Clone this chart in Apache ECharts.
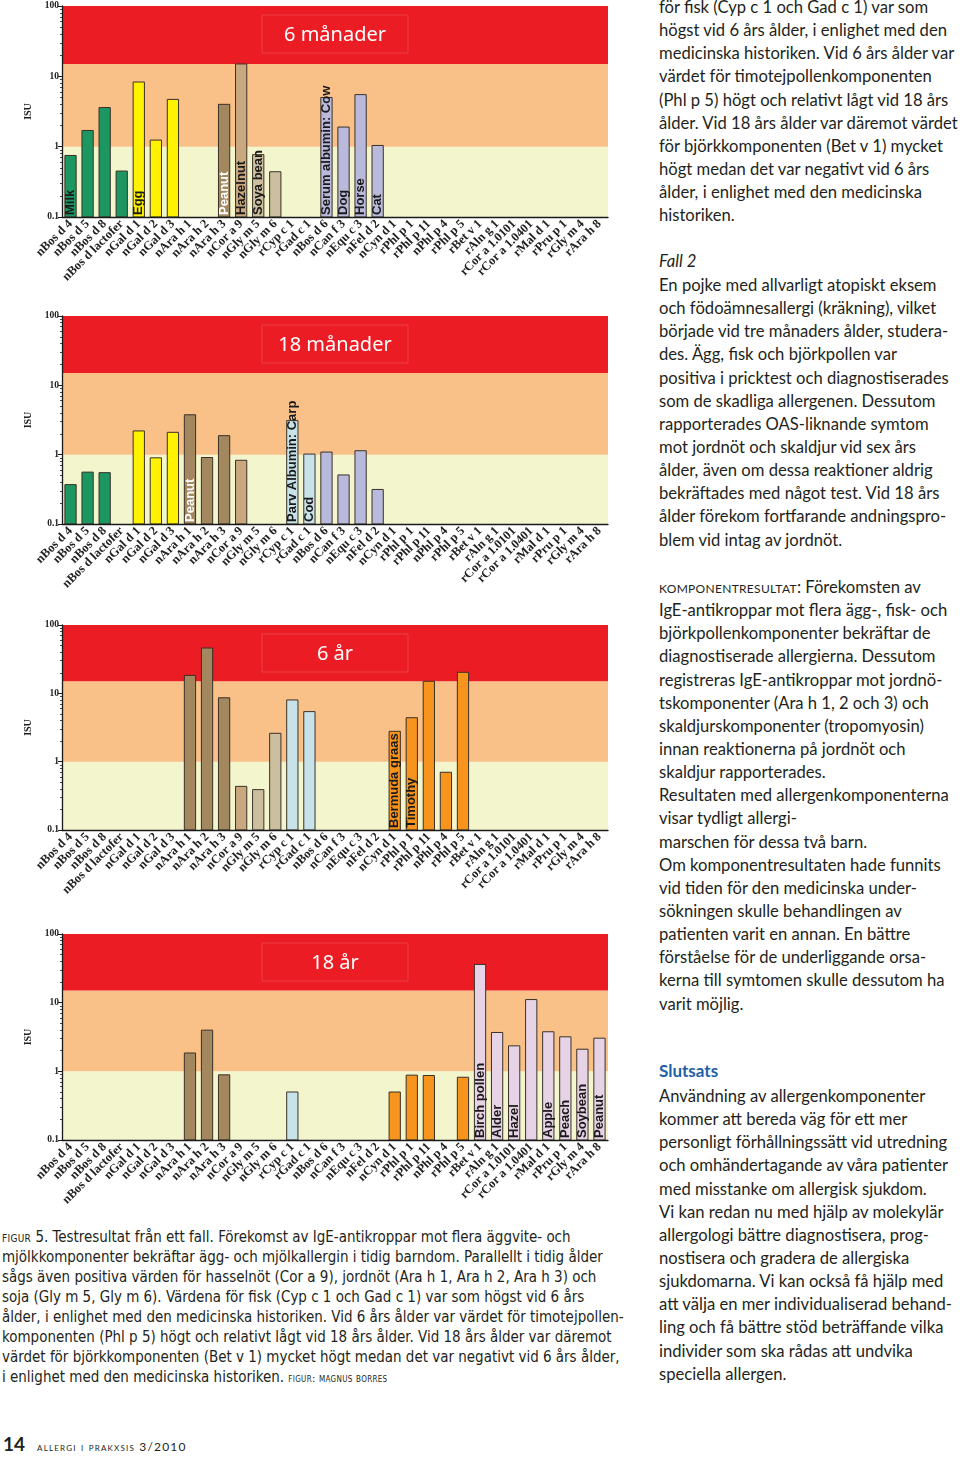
<!DOCTYPE html>
<html><head><meta charset="utf-8">
<script src="https://cdn.jsdelivr.net/npm/echarts/dist/echarts.min.js"></script>
<style>
html,body{margin:0;padding:0;background:#fff;}
body{width:960px;height:1457px;position:relative;overflow:hidden;color:#231f20;}
#chart{position:absolute;left:0;top:0;width:640px;height:1225px;}
.col{position:absolute;left:659px;font-family:Lato,"Noto Sans",sans-serif;font-size:15.5px;line-height:23.15px;white-space:nowrap;}
.col div{height:23.15px;}
.it{font-style:italic;}
.sc{font-variant:small-caps;text-transform:lowercase;letter-spacing:0.3px;}
.head{color:#1f5fa6;font-weight:bold;font-size:17px;}
#cap{position:absolute;left:2px;top:1227px;font-family:"Liberation Sans Narrow","DejaVu Sans Condensed",sans-serif;font-size:15px;line-height:20px;white-space:nowrap;}
#cap div{height:20px;}
#foot{position:absolute;left:3px;top:1432px;font-family:Lato,"Noto Sans",sans-serif;white-space:nowrap;}
</style></head><body>
<div id="chart"></div>

<div class="col" style="top:-4px">
<div>för fisk (Cyp c 1 och Gad c 1) var som</div>
<div>högst vid 6 års ålder, i enlighet med den</div>
<div>medicinska historiken. Vid 6 års ålder var</div>
<div>värdet för timotejpollenkomponenten</div>
<div>(Phl p 5) högt och relativt lågt vid 18 års</div>
<div><span id="refLine">ålder. Vid 18 års ålder var däremot värdet</span></div>
<div>för björkkomponenten (Bet v 1) mycket</div>
<div>högt medan det var negativt vid 6 års</div>
<div>ålder, i enlighet med den medicinska</div>
<div>historiken.</div>
</div>
<div class="col" style="top:250px"><div class="it">Fall 2</div></div>
<div class="col" style="top:274px">
<div>En pojke med allvarligt atopiskt eksem</div>
<div>och födoämnesallergi (kräkning), vilket</div>
<div>började vid tre månaders ålder, studera-</div>
<div>des. Ägg, fisk och björkpollen var</div>
<div>positiva i pricktest och diagnostiserades</div>
<div>som de skadliga allergenen. Dessutom</div>
<div>rapporterades OAS-liknande symtom</div>
<div>mot jordnöt och skaldjur vid sex års</div>
<div>ålder, även om dessa reaktioner aldrig</div>
<div>bekräftades med något test. Vid 18 års</div>
<div>ålder förekom fortfarande andningspro-</div>
<div>blem vid intag av jordnöt.</div>
</div>
<div class="col" style="top:576px">
<div><span class="sc">Komponentresultat</span>: Förekomsten av</div>
<div>IgE-antikroppar mot flera ägg-, fisk- och</div>
<div>björkpollenkomponenter bekräftar de</div>
<div>diagnostiserade allergierna. Dessutom</div>
<div>registreras IgE-antikroppar mot jordnö-</div>
<div>tskomponenter (Ara h 1, 2 och 3) och</div>
<div>skaldjurskomponenter (tropomyosin)</div>
<div>innan reaktionerna på jordnöt och</div>
<div>skaldjur rapporterades.</div>
<div>Resultaten med allergenkomponenterna</div>
<div>visar tydligt allergi-</div>
<div>marschen för dessa två barn.</div>
<div>Om komponentresultaten hade funnits</div>
<div>vid tiden för den medicinska under-</div>
<div>sökningen skulle behandlingen av</div>
<div>patienten varit en annan. En bättre</div>
<div>förståelse för de underliggande orsa-</div>
<div>kerna till symtomen skulle dessutom ha</div>
<div>varit möjlig.</div>
</div>
<div class="col" style="top:1059px"><div class="head">Slutsats</div></div>
<div class="col" style="top:1085px">
<div>Användning av allergenkomponenter</div>
<div>kommer att bereda väg för ett mer</div>
<div>personligt förhållningssätt vid utredning</div>
<div>och omhändertagande av våra patienter</div>
<div>med misstanke om allergisk sjukdom.</div>
<div>Vi kan redan nu med hjälp av molekylär</div>
<div>allergologi bättre diagnostisera, prog-</div>
<div>nostisera och gradera de allergiska</div>
<div>sjukdomarna. Vi kan också få hjälp med</div>
<div>att välja en mer individualiserad behand-</div>
<div>ling och få bättre stöd beträffande vilka</div>
<div>individer som ska rådas att undvika</div>
<div>speciella allergen.</div>
</div>

<div id="cap">
<div><span class="sc">Figur</span> 5. Testresultat från ett fall. Förekomst av IgE-antikroppar mot flera äggvite- och</div>
<div>mjölkkomponenter bekräftar ägg- och mjölkallergin i tidig barndom. Parallellt i tidig ålder</div>
<div>sågs även positiva värden för hasselnöt (Cor a 9), jordnöt (Ara h 1, Ara h 2, Ara h 3) och</div>
<div>soja (Gly m 5, Gly m 6). Värdena för fisk (Cyp c 1 och Gad c 1) var som högst vid 6 års</div>
<div>ålder, i enlighet med den medicinska historiken. Vid 6 års ålder var värdet för timotejpollen-</div>
<div>komponenten (Phl p 5) högt och relativt lågt vid 18 års ålder. Vid 18 års ålder var däremot</div>
<div><span id="capRef">värdet för björkkomponenten (Bet v 1) mycket högt medan det var negativt vid 6 års ålder,</span></div>
<div>i enlighet med den medicinska historiken. <span class="sc" style="font-size:11px">Figur: Magnus Borres</span></div>
</div>

<div id="foot"><span style="font-weight:bold;font-size:19px;">14</span><span class="sc" style="font-size:12px;letter-spacing:1.2px;margin-left:12px;">Allergi i prakXsis 3/2010</span></div>

<script>
// ---------- DATA ----------
var categories = ['nBos d 4','nBos d 5','nBos d 8','nBos d lactofer','nGal d 1','nGal d 2','nGal d 3',
  'nAra h 1','nAra h 2','nAra h 3','nCor a 9','nGly m 5','nGly m 6','rCyp c 1','rGad c 1',
  'nBos d 6','nCan f 3','nEqu c 3','nFel d 2','nCyn d 1','rPhl p 1','rPhl p 11','nPhl p 4','rPhl p 5',
  'rBet v 1','rAln g 1','rCor a 1.0101','rCor a 1.0401','rMal d 1','rPru p 1','rGly m 4','rAra h 8'];
var categoryGroups = ['milk','milk','milk','milk','egg','egg','egg',
  'peanut','peanut','peanut','hazelnut','soy','soy','fish','fish',
  'animal','animal','animal','animal','grass','grass','grass','grass','grass',
  'pr10','pr10','pr10','pr10','pr10','pr10','pr10','pr10'];
var panelTitles = ['6 månader','18 månader','6 år','18 år'];
var yTicks = [0.1, 1, 10, 100];
var bandLimits = [0.1, 1, 15, 100];

var values6m = [0.75,1.7,3.6,0.45,8.3,1.24,4.7, null,null,4.0,15,0.77,0.44,null,null,
  5.0,1.9,5.5,1.04, null,null,null,null,null, null,null,null,null,null,null,null,null];
var values18m = [0.37,0.56,0.55,null,2.2,0.9,2.1, 3.76,0.91,1.88,0.83,null,null,3.1,1.02,
  1.09,0.51,1.14,0.315, null,null,null,null,null, null,null,null,null,null,null,null,null];
var values6y = [null,null,null,null,null,null,null, 18.3,46,8.6,0.435,0.39,2.6,8.0,5.4,
  null,null,null,null, 2.78,4.4,15,0.70,20.3, null,null,null,null,null,null,null,null];
var values18y = [null,null,null,null,null,null,null, 1.85,3.98,0.89,null,null,null,0.5,null,
  null,null,null,null, 0.50,0.88,0.87,null,0.82, 36,3.68,2.35,11.1,3.77,3.18,2.1,3.04];

var labels6m = ['Milk','','','','Egg','','', '','','Peanut','Hazelnut','Soya bean','','','',
  'Serum albumin: Cow','Dog','Horse','Cat', '','','','','', '','','','','','','',''];
var labels18m = ['','','','','','','', 'Peanut','','','','','','Parv Albumin: Carp','Cod',
  '','','','', '','','','','', '','','','','','','',''];
var labels6y = ['','','','','','','', '','','','','','','','',
  '','','','', 'Bermuda graas','Timothy','','','', '','','','','','','',''];
var labels18y = ['','','','','','','', '','','','','','','','',
  '','','','', '','','','','', 'Birch pollen','Alder','Hazel','','Apple','Peach','Soybean','Peanut'];

var panelValues = [values6m, values18m, values6y, values18y];
var panelLabels = [labels6m, labels18m, labels6y, labels18y];

// ---------- STYLE ----------
var groupColors = {milk:'#1c9762', egg:'#fff200', peanut:'#a3875f', hazelnut:'#c9a87f', soy:'#cbbf9f',
  fish:'#c8e2ea', animal:'#b9b9dc', grass:'#f7941d', pr10:'#e6d3e6'};
var bandColors = ['#f3f5cc','#f9c087','#ec1c24'];
var grids = [{top:6,height:211},{top:316,height:208},{top:625,height:205},{top:934,height:206}];
var serif = '"Liberation Serif","Times New Roman",serif';
var labelFont = 'bold 13px "Liberation Sans", Arial, sans-serif';

var chart = echarts.init(document.getElementById('chart'), null, {renderer:'canvas'});
var option = {animation:false, grid:[], xAxis:[], yAxis:[], series:[], graphic:[]};

grids.forEach(function(g, i){
  option.grid.push({left:62, top:g.top, width:546, height:g.height, containLabel:false});
  option.xAxis.push({type:'category', gridIndex:i, data:categories, z:5,
    axisLine:{lineStyle:{color:'#1a1a1a', width:1.3}},
    axisTick:{alignWithLabel:true, length:4, lineStyle:{color:'#1a1a1a', width:1.2}},
    axisLabel:{interval:0, rotate:45, margin:5, fontFamily:serif, fontWeight:'bold', fontSize:12.5, color:'#222'}
  });
  option.yAxis.push({type:'log', logBase:10, min:yTicks[0], max:yTicks[yTicks.length-1], gridIndex:i, z:5,
    name:'ISU', nameLocation:'middle', nameGap:29, nameRotate:90,
    nameTextStyle:{fontFamily:serif, fontWeight:'bold', fontSize:10, color:'#222'},
    axisLine:{show:true, lineStyle:{color:'#1a1a1a', width:1.3}},
    axisTick:{show:true, length:4, lineStyle:{color:'#1a1a1a'}},
    minorTick:{show:true, splitNumber:9, length:2, lineStyle:{color:'#444'}},
    splitLine:{show:false},
    axisLabel:{margin:3, fontFamily:serif, fontWeight:'bold', fontSize:9.5, color:'#222',
      formatter:function(v){ return String(v); }}
  });
  var vals = panelValues[i], labs = panelLabels[i];
  var data = [];
  vals.forEach(function(v, j){
    if (v == null) return;
    data.push({value:[j, v], itemStyle:{color:groupColors[categoryGroups[j]]}});
  });
  var bands = [];
  for (var b = 0; b < bandLimits.length-1; b++) {
    bands.push([{yAxis:bandLimits[b], itemStyle:{color:bandColors[b]}}, {yAxis:bandLimits[b+1]}]);
  }
  var yMin = yTicks[0];
  option.series.push({type:'custom', xAxisIndex:i, yAxisIndex:i, data:data, z:3,
    encode:{x:0, y:1},
    renderItem:function(params, api){
      var j = api.value(0), v = api.value(1);
      var top = api.coord([j, v]);
      var base = api.coord([j, yMin]);
      var w = api.size([1, 1])[0] * 0.66;
      var children = [{type:'rect', shape:{x:top[0]-w/2, y:top[1], width:w, height:base[1]-top[1]},
        style:{fill:api.visual('color'), stroke:'#3a3128', lineWidth:1}}];
      var txt = labs[j];
      if (txt) {
        children.push({type:'text', x:top[0], y:base[1]-2, rotation:Math.PI/2, z2:10,
          style:{text:txt, font:labelFont, fill: categoryGroups[j] === 'peanut' ? '#ffffff' : '#1a1a1a',
            align:'left', verticalAlign:'middle'}});
      }
      return {type:'group', children:children};
    },
    markArea:{silent:true, z:1, itemStyle:{opacity:1}, data:bands}
  });
  option.graphic.push({type:'rect', z:4, silent:true, shape:{x:262, y:g.top+9, width:146, height:38},
    style:{fill:'none', stroke:'rgba(255,255,255,0.16)', lineWidth:1}});
  option.graphic.push({type:'text', z:4, silent:true, x:335, y:g.top+29,
    style:{text:panelTitles[i], fill:'#ffffff', font:'20px "Noto Sans", sans-serif', textAlign:'center', textVerticalAlign:'middle'}});
});
chart.setOption(option);

// fit text widths to the column / caption measure
function fit(){
  var w = document.getElementById('refLine').getBoundingClientRect().width;
  var fs = 15.5 * 299 / w;
  document.querySelectorAll('.col').forEach(function(c){ if(!c.querySelector('.head')) c.style.fontSize = fs + 'px'; });
  var cw = document.getElementById('capRef').getBoundingClientRect().width;
  document.getElementById('cap').style.fontSize = (15 * 618 / cw) + 'px';
}
if (document.fonts && document.fonts.ready) document.fonts.ready.then(fit); else fit();
</script>
</body></html>
